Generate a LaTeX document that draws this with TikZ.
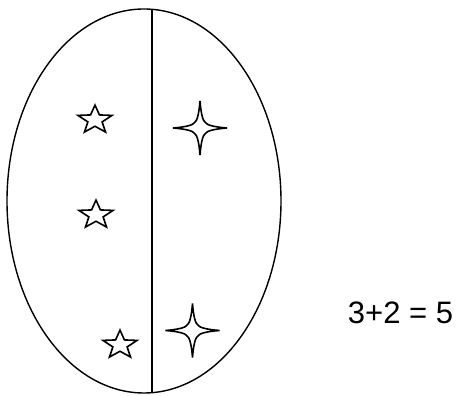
\documentclass[tikz,border=0pt]{standalone}
\usepackage{fontspec}
\setmainfont{Liberation Sans}
\begin{document}
\begin{tikzpicture}[x=1pt,y=1pt,
  outline/.style={line width=1.4pt,black},
  starline/.style={line width=1.6pt,black,line join=miter},
  smallstar/.pic={
    \draw[starline,xscale=17.9,yscale=14.9] (90:1) -- (126:0.42) -- (162:1) -- (198:0.42) -- (234:1)
      -- (270:0.42) -- (306:1) -- (342:0.42) -- (18:1) -- (54:0.42) -- cycle;
  },
  sparkle/.pic={
    \draw[starline] (0,27) .. controls (1,14) and (3,6.5) .. (5.5,5.5)
      .. controls (6.5,3) and (14,1) .. (27,0)
      .. controls (14,-1) and (6.5,-3) .. (5.5,-5.5)
      .. controls (3,-6.5) and (1,-14) .. (0,-27)
      .. controls (-1,-14) and (-3,-6.5) .. (-5.5,-5.5)
      .. controls (-6.5,-3) and (-14,-1) .. (-27,0)
      .. controls (-14,1) and (-6.5,3) .. (-5.5,5.5)
      .. controls (-3,6.5) and (-1,14) .. cycle;
  }]
\useasboundingbox (0,0) rectangle (459,396);
% oval
\draw[outline] (144,195) ellipse [x radius=137, y radius=192];
\coordinate (top) at (152,386.7);
\coordinate (bot) at (152,3.3);
\draw[outline] (top) -- (bot);
% stars on the left
\pic at (95,276) {smallstar};
\pic at (96,181) {smallstar};
\pic at (120,51) {smallstar};
% four-point stars on the right
\pic at (200,268) {sparkle};
\pic at (192.5,65.5) {sparkle};
% equation
\node[anchor=base,inner sep=0pt,font=\fontsize{31}{31}\selectfont] (eq) at (400.5,72) {3+2 = 5};
\end{tikzpicture}
\end{document}
